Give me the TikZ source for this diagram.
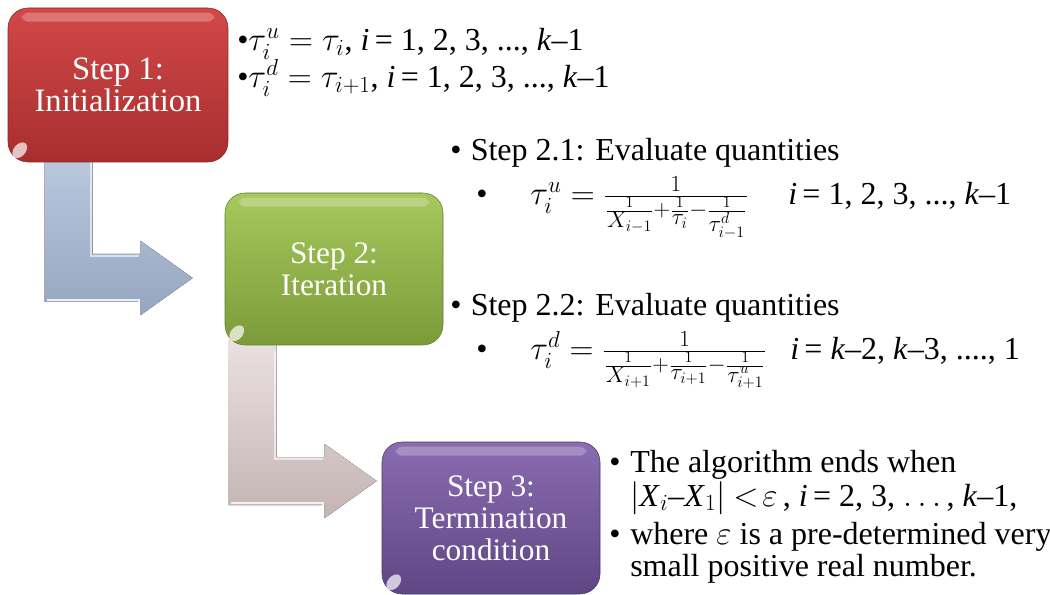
\documentclass[tikz,border=0pt]{standalone}
\usepackage{fontspec}
\setmainfont{Liberation Serif}
\usetikzlibrary{calc}
\definecolor{redT}{HTML}{D24848}
\definecolor{redB}{HTML}{A82E2E}
\definecolor{grnT}{HTML}{A6C85C}
\definecolor{grnB}{HTML}{7B9B39}
\definecolor{purT}{HTML}{8A6CB0}
\definecolor{purB}{HTML}{604684}
\definecolor{bluT}{HTML}{BCCADF}
\definecolor{bluB}{HTML}{96A6C0}
\definecolor{pnkT}{HTML}{EAE0E0}
\definecolor{pnkB}{HTML}{C4B4B4}
\newcommand\bentarrowpath[1]{%
  (-148,#1) -- (-100,#1) -- (-100,-24) -- (-52,-24) -- (-52,-37) -- (0,0)
  -- (-52,37) -- (-52,24) -- (-148,24) -- cycle}
\newcommand\sfr[1]{\frac{1}{\scriptstyle #1}}
\tikzset{
  stepbox/.style={rounded corners=15pt, minimum width=163.5pt, minimum height=114pt,
    text=white, align=center, inner sep=0pt,
    font=\fontsize{23.5}{24}\selectfont},
  txt/.style={anchor=base west, inner sep=0pt, font=\fontsize{24}{28}\selectfont},
  gloss/.style={fill=white, opacity=0.25},
}
\begin{document}
\begin{tikzpicture}[x=0.75pt,y=-0.75pt]
\useasboundingbox (0,0) rectangle (1050,595);
% step boxes (placed first so the arrows can refer to them)
\path (118,85) node[stepbox, minimum width=165pt, minimum height=115.5pt] (s1) {}
      (334,269) node[stepbox] (s2) {}
      (491,518) node[stepbox] (s3) {};
% bent arrows
\coordinate (t1) at ($(s2.west)+(-32,9)$);
\coordinate (t2) at ($(s3.west)+(-5,-37)$);
\begin{scope}[shift={(t1)}]
  \fill[top color=bluT, bottom color=bluB] \bentarrowpath{-128};
  \draw[white, opacity=0.6, line width=1.2pt] (-102,-120) -- (-102,-22) -- (-54,-22);
  \draw[white, opacity=0.8, line width=1.2pt] (-146,22) -- (-54,22) -- (-54,35);
\end{scope}
\begin{scope}[shift={(t2)}]
  \fill[top color=pnkT, bottom color=pnkB] \bentarrowpath{-141};
  \draw[white, opacity=0.6, line width=1.2pt] (-102,-130) -- (-102,-22) -- (-54,-22);
  \draw[white, opacity=0.8, line width=1.2pt] (-146,22) -- (-54,22) -- (-54,34);
\end{scope}
% boxes with shading
\node[stepbox, minimum width=165pt, minimum height=115.5pt, top color=redT, bottom color=redB,
      draw=redB!80!black, line width=0.4pt, font=\fontsize{24.5}{24}\selectfont] (s1) at (118,85) {Step 1:\\Initialization};
\node[stepbox, top color=grnT, bottom color=grnB, draw=grnB!80!black, line width=0.4pt]
      (s2) at (334,269) {Step 2:\\Iteration};
\node[stepbox, top color=purT, bottom color=purB, draw=purB!80!black, line width=0.4pt]
      (s3) at (491,518) {Step 3:\\Termination\\condition};
% gloss strips
\foreach \b in {s1,s2,s3}{
  \fill[gloss, rounded corners=5pt] ($(\b.north west)+(14,5)$) rectangle ($(\b.north east)+(-14,14)$);
  \fill[white, opacity=0.7] ($(\b.south west)+(12,-12)$) ellipse [x radius=6, y radius=9, rotate=-40];
}
% Step 1 text
\node[txt] (l1) at (237,51) {\textbullet$\tau_i^u=\tau_i$, \textit{i}\,= 1, 2, 3, ..., \textit{k}–1};
\node[txt] (l2) at (237,88) {\textbullet$\tau_i^d=\tau_{i+1}$, \textit{i}\,= 1, 2, 3, ..., \textit{k}–1};
% Step 2 text
\node[txt] (b21) at (450,161) {\textbullet\hspace{7pt}Step 2.1: Evaluate quantities};
\node[txt] (d21) at (476,205) {\textbullet};
\node[txt] (f21) at (530,205) {$\tau_i^u=\frac{1}{\sfr{X_{i-1}}+\sfr{\tau_i}-\sfr{\tau^d_{i-1}}}$};
\node[txt] (r21) at (788,205) {\textit{i}\,= 1, 2, 3, ..., \textit{k}–1};
\node[txt] (b22) at (450,316) {\textbullet\hspace{7pt}Step 2.2: Evaluate quantities};
\node[txt] (d22) at (476,360) {\textbullet};
\node[txt] (f22) at (530,360) {$\tau_i^d=\frac{1}{\sfr{X_{i+1}}+\sfr{\tau_{i+1}}-\sfr{\tau^u_{i+1}}}$};
\node[txt] (r22) at (790,360) {\textit{i}\,= \textit{k}–2, \textit{k}–3, ...., 1};
% Step 3 text
\node[txt] (d31) at (609,472) {\textbullet};
\node[txt] (t31) at (630,472) {The algorithm ends when};
\node[txt] (t32) at (630,506) {$|$\textit{X}$_i$–\textit{X}$_1|$ $<\!\varepsilon$\,, \textit{i}\,= 2, 3, $\ldots$\,, \textit{k}–1,};
\node[txt] (d32) at (609,544) {\textbullet};
\node[txt] (t33) at (630,544) {where $\varepsilon$ is a pre-determined very};
\node[txt] (t34) at (630,576) {small positive real number.};
\end{tikzpicture}
\end{document}
